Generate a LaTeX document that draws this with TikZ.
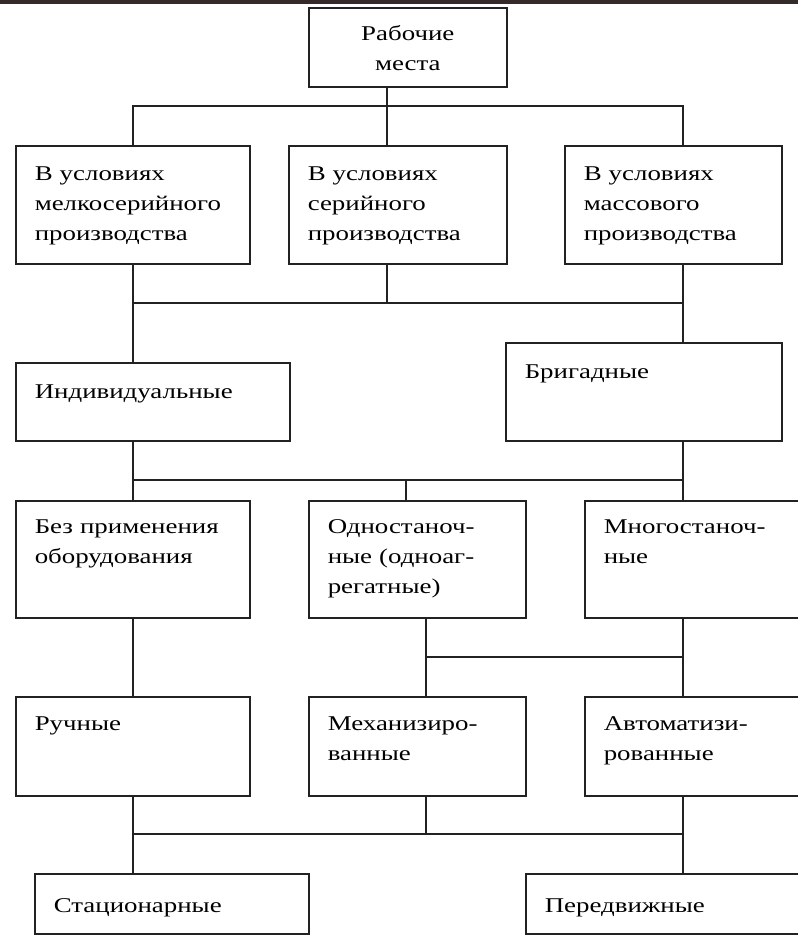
\documentclass[tikz,border=0pt]{standalone}
\usepackage{fontspec}
\setmainfont[FakeStretch=1.28]{Liberation Serif}
\usepackage{tikz}

\definecolor{band}{RGB}{52,42,42}
\definecolor{ink}{RGB}{34,34,34}

\begin{document}
\begin{tikzpicture}[x=1pt,y=-1pt,
    blk/.style n args={3}{draw=ink,line width=1.6pt,anchor=north west,align=left,
        inner xsep=19pt,inner ysep=0pt,text width=#1pt,text height=#2pt,text depth=#3pt,
        font=\fontsize{21}{30}\selectfont},
    wire/.style={draw=ink,line width=1.6pt}]
    \useasboundingbox (0,0) rectangle (798,935);
    \clip (0,0) rectangle (798,935);
    \fill[band] (0,0) rectangle (798,4);

    % columns and bus levels
    \coordinate (k1) at (133,0);
    \coordinate (k2) at (387,0);
    \coordinate (k3) at (406,0);
    \coordinate (k4) at (426,0);
    \coordinate (k5) at (683,0);
    \coordinate (u1) at (0,106);
    \coordinate (u2) at (0,303);
    \coordinate (u3) at (0,480);
    \coordinate (u4) at (0,657);
    \coordinate (u5) at (0,834);

    \node[blk={160}{33}{46},align=center] (top) at (308,7) {Рабочие\\места};

    \node[blk={196}{35}{83}] (melk) at (15,145) {В условиях\\мелкосерийного\\производства};
    \node[blk={180}{35}{83}] (ser) at (288,145) {В условиях\\серийного\\производства};
    \node[blk={179}{35}{83}] (mass) at (564,145) {В условиях\\массового\\производства};

    \node[blk={236}{36}{42}] (ind) at (15,362) {Индивидуальные};
    \node[blk={238}{36}{62}] (brig) at (505,342) {Бригадные};

    \node[blk={196}{33}{84}] (bez) at (15,500) {Без~применения\\оборудования};
    \node[blk={179}{33}{84}] (odno) at (308,500) {Одностаноч-\\ные (одноаг-\\регатные)};
    \node[blk={192}{33}{84}] (mnogo) at (584,500) {Многостаноч-\\ные};

    \node[blk={196}{34}{65}] (ruch) at (15,696) {Ручные};
    \node[blk={179}{34}{65}] (meh) at (308,696) {Механизиро-\\ванные};
    \node[blk={192}{34}{65}] (avto) at (584,696) {Автоматизи-\\рованные};

    \node[blk={236}{39}{21}] (stac) at (34,873) {Стационарные};
    \node[blk={252}{39}{21}] (pered) at (525,873) {Передвижные};

    \draw[wire] (top.south -| k2) -- (ser.north -| k2);
    \draw[wire] (melk.north -| k1) -- (u1 -| k1) -- (u1 -| k5) -- (mass.north -| k5);

    \draw[wire] (melk.south -| k1) -- (ind.north -| k1);
    \draw[wire] (ser.south -| k2) -- (u2 -| k2);
    \draw[wire] (mass.south -| k5) -- (brig.north -| k5);
    \draw[wire] (u2 -| k1) -- (u2 -| k5);

    \draw[wire] (ind.south -| k1) -- (bez.north -| k1);
    \draw[wire] (brig.south -| k5) -- (mnogo.north -| k5);
    \draw[wire] (u3 -| k1) -- (u3 -| k5);
    \draw[wire] (u3 -| k3) -- (odno.north -| k3);

    \draw[wire] (bez.south -| k1) -- (ruch.north -| k1);
    \draw[wire] (odno.south -| k4) -- (meh.north -| k4);
    \draw[wire] (mnogo.south -| k5) -- (avto.north -| k5);
    \draw[wire] (u4 -| k4) -- (u4 -| k5);

    \draw[wire] (ruch.south -| k1) -- (stac.north -| k1);
    \draw[wire] (meh.south -| k4) -- (u5 -| k4);
    \draw[wire] (avto.south -| k5) -- (pered.north -| k5);
    \draw[wire] (u5 -| k1) -- (u5 -| k5);
\end{tikzpicture}
\end{document}
